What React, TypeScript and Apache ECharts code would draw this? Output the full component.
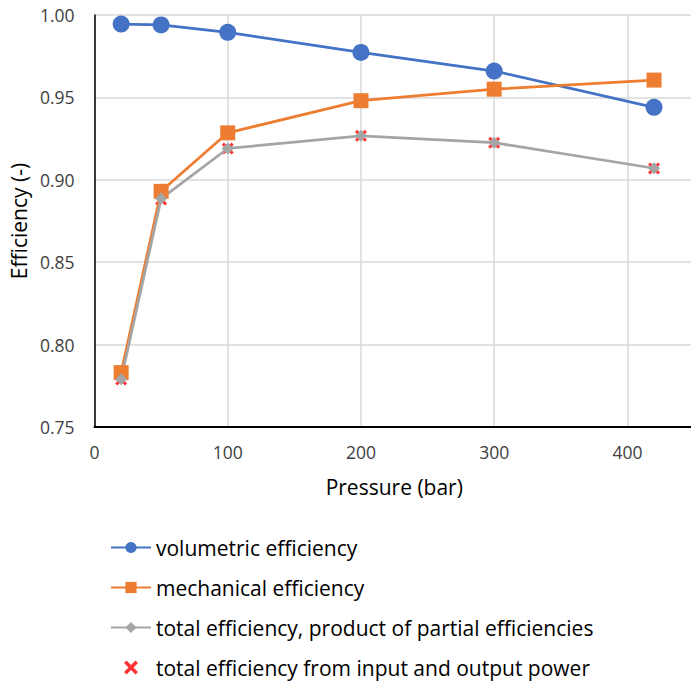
import React, { useEffect, useRef } from "react";
import * as echarts from "echarts";

const pressure = [20, 50, 100, 200, 300, 420];
const volumetric = [0.9945, 0.994, 0.9895, 0.9773, 0.966, 0.944];
const mechanical = [0.783, 0.893, 0.9285, 0.948, 0.955, 0.9605];
const totalProduct = [0.779, 0.8886, 0.919, 0.9267, 0.9225, 0.907];
const totalPower = [0.7788, 0.888, 0.919, 0.9267, 0.9225, 0.9069];

const seriesNames = [
  "volumetric efficiency",
  "mechanical efficiency",
  "total efficiency, product of partial efficiencies",
  "total efficiency from input and output power",
];

const FONT = "Open Sans";
const crossPath =
  "path://M0,1.8L1.8,0L5,3.2L8.2,0L10,1.8L6.8,5L10,8.2L8.2,10L5,6.8L1.8,10L0,8.2L3.2,5Z";

const pairs = (ys: number[]) => pressure.map((x, i) => [x, ys[i]]);

export default function App() {
  const ref = useRef<HTMLDivElement>(null);
  useEffect(() => {
    if (!ref.current) return;
    const chart = echarts.init(ref.current, undefined, { renderer: "svg" });
    chart.setOption({
      animation: false,
      backgroundColor: "#ffffff",
      textStyle: { fontFamily: FONT },
      grid: { left: 94, top: 15, right: 26, bottom: 263 },
      xAxis: {
        type: "value",
        min: 0,
        max: 450,
        interval: 100,
        name: "Pressure (bar)",
        nameLocation: "middle",
        nameGap: 49,
        nameTextStyle: { fontFamily: FONT, fontSize: 21, color: "#000" },
        axisLine: { show: true, onZero: false, lineStyle: { color: "#000", width: 2 } },
        axisTick: { show: false },
        axisLabel: {
          showMaxLabel: false,
          margin: 16,
          fontFamily: FONT,
          fontSize: 17.5,
          color: "#404040",
        },
        splitLine: { show: true, lineStyle: { color: "#D9D9D9", width: 1.5 } },
      },
      yAxis: {
        type: "value",
        min: 0.75,
        max: 1.0,
        interval: 0.05,
        name: "Efficiency (-)",
        nameLocation: "middle",
        nameGap: 63,
        nameTextStyle: { fontFamily: FONT, fontSize: 21, color: "#000" },
        axisLine: { show: true, lineStyle: { color: "#000", width: 1.5 } },
        axisTick: { show: false },
        axisLabel: {
          margin: 20,
          fontFamily: FONT,
          fontSize: 17.5,
          color: "#404040",
          formatter: (v: number) => v.toFixed(2),
        },
        splitLine: { show: true, lineStyle: { color: "#D9D9D9", width: 1.5 } },
      },
      legend: {
        orient: "vertical",
        left: 105,
        top: 532,
        itemWidth: 40,
        itemHeight: 14,
        itemGap: 19,
        textStyle: { fontFamily: FONT, fontSize: 21, color: "#000" },
        data: seriesNames,
      },
      series: [
        {
          name: seriesNames[0],
          type: "line",
          data: pairs(volumetric),
          symbol: "circle",
          symbolSize: 17,
          color: "#4472C4",
          lineStyle: { width: 2.75, color: "#4472C4" },
          itemStyle: { color: "#4472C4" },
        },
        {
          name: seriesNames[1],
          type: "line",
          data: pairs(mechanical),
          symbol: "rect",
          symbolSize: 15,
          color: "#ED7D31",
          lineStyle: { width: 2.75, color: "#ED7D31" },
          itemStyle: { color: "#ED7D31" },
        },
        {
          name: seriesNames[2],
          type: "line",
          data: pairs(totalProduct),
          symbol: "diamond",
          symbolSize: 12,
          color: "#A5A5A5",
          lineStyle: { width: 2.75, color: "#A5A5A5" },
          itemStyle: { color: "#A5A5A5" },
        },
        {
          name: seriesNames[3],
          type: "scatter",
          data: pairs(totalPower),
          symbol: crossPath,
          symbolSize: 12,
          color: "#FF0000",
          itemStyle: { color: "#FF0000" },
        },
      ],
    });
    return () => chart.dispose();
  }, []);
  return (
    <div
      style={{
        position: "fixed",
        left: 0,
        top: 0,
        width: 691,
        height: 690,
        overflow: "hidden",
        background: "#fff",
      }}
    >
      <div ref={ref} style={{ width: 720, height: 690 }} />
    </div>
  );
}
